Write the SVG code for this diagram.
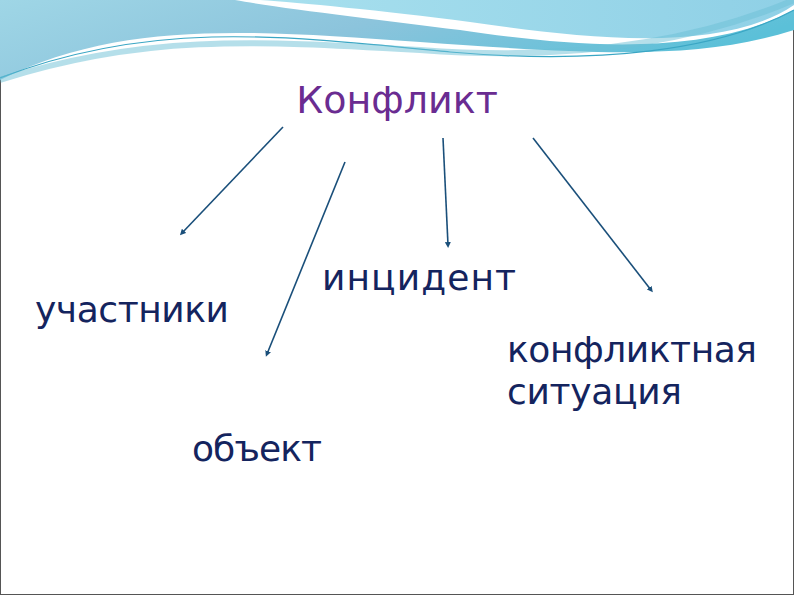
<svg xmlns="http://www.w3.org/2000/svg" width="794" height="595" viewBox="0 0 794 595">
<defs>
<linearGradient id="g1" x1="0" y1="0" x2="1" y2="0.3"><stop offset="0" stop-color="#9fd6e6"/><stop offset="0.5" stop-color="#8cc4dc"/><stop offset="1" stop-color="#5bc0d8"/></linearGradient>
<linearGradient id="g2" x1="0" y1="0" x2="1" y2="0"><stop offset="0" stop-color="#a8e0ee"/><stop offset="1" stop-color="#8fd0e6"/></linearGradient>
<marker id="a" markerWidth="6" markerHeight="6" refX="3" refY="3" orient="auto" markerUnits="userSpaceOnUse"><path d="M0,0 L6,3 L0,6 z" fill="#1a4f7a"/></marker>
<style>.l{stroke:#1a4f7a;stroke-width:1.6;fill:none;marker-end:url(#a)}.t{font-family:"DejaVu Sans",sans-serif;font-size:36px;fill:#14245e}</style>
</defs>
<rect width="794" height="595" fill="#fff" stroke="#555" stroke-width="2"/>
<g id="banner">
<path d="M0,0 H794 V30 C700,60 600,55 420,42 C250,30 120,20 0,80 Z" fill="url(#g1)"/>
<path d="M235,0 H794 V10 C700,60 560,45 460,30 C380,20 280,8 235,0 Z" fill="#fff"/>
<path d="M260,0 H794 V5 C720,55 580,38 470,22 C380,10 300,3 260,0 Z" fill="url(#g2)"/>
<path d="M0,78 C150,20 280,35 450,52 C600,65 720,50 794,10" stroke="#3aa6c4" stroke-width="1.2" fill="none"/>
<path d="M0,80 C140,35 250,40 420,50 C580,62 700,40 794,0" stroke="#6bc0d6" stroke-width="6" fill="none" opacity="0.5"/>
</g>
<g id="title"><text x="397" y="113" text-anchor="middle" font-family="DejaVu Sans,sans-serif" font-size="38" fill="#6a2c91">Конфликт</text></g>
<g id="connectors">
<line class="l" x1="283" y1="127" x2="182" y2="233"/>
<line class="l" x1="345" y1="162" x2="267" y2="354"/>
<line class="l" x1="443" y1="138" x2="448" y2="245"/>
<line class="l" x1="533" y1="138" x2="651" y2="290"/>
</g>
<g id="n1"><text class="t" x="35" y="322" textLength="194">участники</text></g>
<g id="n2"><text class="t" x="322" y="290" textLength="194">инцидент</text></g>
<g id="n3"><text class="t" x="192" y="461" textLength="130">объект</text></g>
<g id="n4"><text class="t" x="507" y="362" textLength="250">конфликтная</text><text class="t" x="507" y="404" textLength="175">ситуация</text></g>
</svg>
